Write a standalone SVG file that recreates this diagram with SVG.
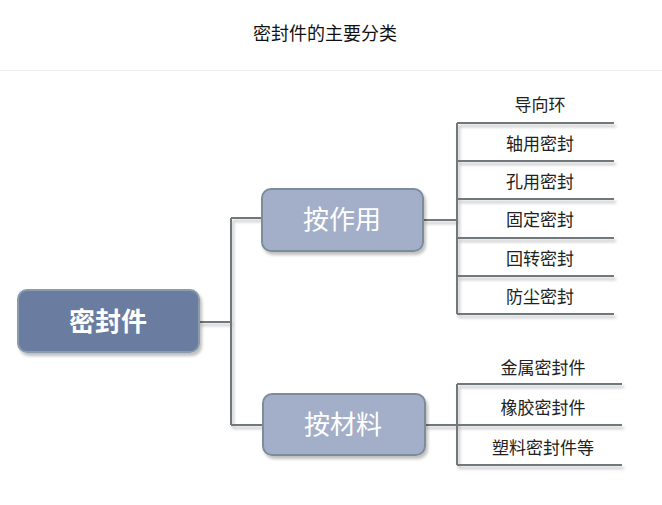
<svg xmlns="http://www.w3.org/2000/svg" width="662" height="505" viewBox="0 0 662 505">
<defs>
<filter id="sh" x="-10%" y="-10%" width="130%" height="140%">
<feDropShadow dx="2" dy="3" stdDeviation="1.5" flood-color="#000" flood-opacity="0.25"/>
</filter>
<style>
.ln{stroke:#6f787c;stroke-width:2;fill:none}
.t{font-family:"Noto Sans CJK SC","Noto Sans CJK JP",sans-serif;text-anchor:middle}
.lbl{font-size:17px;fill:#222}
.mid{fill:#a3afc8;stroke:#7c8c9a;stroke-width:2}
.mt{font-size:26px;fill:#fff}
</style>
</defs>
<rect width="662" height="505" fill="#fff"/>
<text class="t" x="325" y="40" font-size="18" fill="#111">密封件的主要分类</text>
<line x1="0" y1="70.5" x2="662" y2="70.5" stroke="#eeeeee" stroke-width="1"/>
<g id="connectors" filter="url(#sh)">
<path class="ln" d="M199 322H231M231 218V425M231 218H262M231 425H263"/>
<path class="ln" d="M423 220H457M457 123V314M457 123H614M457 161H614M457 199H614M457 238H614M457 276H614M457 314H614"/>
<path class="ln" d="M425 425H457M457 384V465M457 384H622M457 425H622M457 465H622"/>
</g>
<g id="root">
<rect x="18" y="290" width="181" height="62" rx="9" fill="#6a7ba0" stroke="#8a9cac" stroke-width="2" filter="url(#sh)"/>
<text class="t" x="108" y="331" font-size="26" font-weight="bold" fill="#fff">密封件</text>
</g>
<g id="by-function">
<rect class="mid" x="262" y="189" width="161" height="62" rx="9" filter="url(#sh)"/>
<text class="t mt" x="342" y="229">按作用</text>
</g>
<g id="by-material">
<rect class="mid" x="263" y="394" width="162" height="61" rx="9" filter="url(#sh)"/>
<text class="t mt" x="343" y="434">按材料</text>
</g>
<g id="leaf-1"><text class="t lbl" x="540" y="111">导向环</text></g>
<g id="leaf-2"><text class="t lbl" x="540" y="150">轴用密封</text></g>
<g id="leaf-3"><text class="t lbl" x="540" y="188">孔用密封</text></g>
<g id="leaf-4"><text class="t lbl" x="540" y="226">固定密封</text></g>
<g id="leaf-5"><text class="t lbl" x="540" y="265">回转密封</text></g>
<g id="leaf-6"><text class="t lbl" x="540" y="303">防尘密封</text></g>
<g id="leaf-7"><text class="t lbl" x="543" y="374">金属密封件</text></g>
<g id="leaf-8"><text class="t lbl" x="543" y="414">橡胶密封件</text></g>
<g id="leaf-9"><text class="t lbl" x="543" y="454">塑料密封件等</text></g>
</svg>
